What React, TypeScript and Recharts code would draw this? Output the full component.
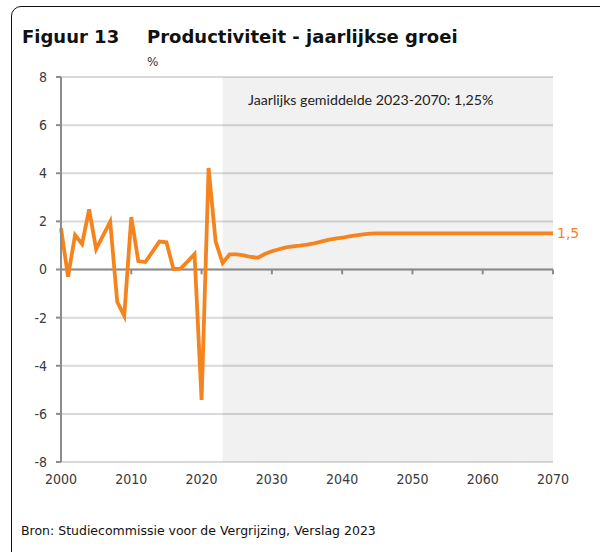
import React from 'react';
import { LineChart, Line, XAxis, YAxis, CartesianGrid, ReferenceArea, ReferenceLine } from 'recharts';

const years = [
  2000, 2001, 2002, 2003, 2004, 2005, 2006, 2007, 2008, 2009,
  2010, 2011, 2012, 2013, 2014, 2015, 2016, 2017, 2018, 2019,
  2020, 2021, 2022, 2023, 2024, 2025, 2026, 2027, 2028, 2029,
  2030, 2031, 2032, 2033, 2034, 2035, 2036, 2037, 2038, 2039,
  2040, 2041, 2042, 2043, 2044, 2045, 2046, 2047, 2048, 2049,
  2050, 2051, 2052, 2053, 2054, 2055, 2056, 2057, 2058, 2059,
  2060, 2061, 2062, 2063, 2064, 2065, 2066, 2067, 2068, 2069,
  2070,
];

const productivity = [
  1.72, -0.3, 1.43, 1.06, 2.5, 0.85, 1.42, 1.99, -1.34, -1.93,
  2.18, 0.35, 0.31, 0.73, 1.16, 1.13, 0.02, 0.04, 0.33, 0.64,
  -5.42, 4.22, 1.16, 0.27, 0.63, 0.63, 0.59, 0.52, 0.49, 0.64,
  0.76, 0.84, 0.92, 0.96, 0.99, 1.03, 1.09, 1.16, 1.23, 1.28,
  1.32, 1.38, 1.42, 1.46, 1.49, 1.5, 1.5, 1.5, 1.5, 1.5,
  1.5, 1.5, 1.5, 1.5, 1.5, 1.5, 1.5, 1.5, 1.5, 1.5,
  1.5, 1.5, 1.5, 1.5, 1.5, 1.5, 1.5, 1.5, 1.5, 1.5,
  1.5,
];

const xTicks = [2000, 2010, 2020, 2030, 2040, 2050, 2060, 2070];
const zeroTicks = [2010, 2020, 2030, 2040, 2050, 2060, 2070];
const yTicks = [-8, -6, -4, -2, 0, 2, 4, 6, 8];
const projectionStart = 2023;
const projectionEnd = 2070;

const titleNumber = 'Figuur 13';
const titleText = 'Productiviteit - jaarlijkse groei';
const unitText = '%';
const noteText = 'Jaarlijks gemiddelde 2023-2070: 1,25%';
const sourceText = 'Bron: Studiecommissie voor de Vergrijzing, Verslag 2023';
const endLabel = '1,5';

const data = years.map((y, i) => ({ year: y, v: productivity[i] }));

const ORANGE = '#F5841F';
const AXIS = '#8c8c8c';
const TICKTXT = '#3a3a3a';
const FONT = '"DejaVu Sans", sans-serif';
const TICKFONT = '"DejaVu Sans Condensed", "DejaVu Sans", sans-serif';

const EndLabel = (props: any) => {
  const { x, y, index } = props;
  if (index !== data.length - 1) return null;
  return (
    <text x={x + 4} y={y} dy="0.35em" fill={ORANGE} fontSize={14} fontFamily={FONT}>
      {endLabel}
    </text>
  );
};

export default function App() {
  return (
    <div style={{ position: 'absolute', left: 0, top: 0, width: 600, height: 552, background: '#fff', overflow: 'hidden', fontFamily: FONT }}>
      <div style={{ position: 'absolute', left: 11, top: 6, width: 610, height: 570, border: '1.5px solid #111', borderRadius: 10, boxSizing: 'border-box' }} />
      <div style={{ position: 'absolute', left: 22, top: 26, fontSize: 18, fontWeight: 'bold', color: '#111', whiteSpace: 'nowrap' }}>{titleNumber}</div>
      <div style={{ position: 'absolute', left: 147, top: 26, fontSize: 18, fontWeight: 'bold', color: '#111', whiteSpace: 'nowrap' }}>{titleText}</div>
      <div style={{ position: 'absolute', left: 147, top: 55, fontSize: 12, color: '#333', whiteSpace: 'nowrap' }}>{unitText}</div>
      <div style={{ position: 'absolute', left: 0, top: 0 }}>
        <LineChart width={600} height={552} data={data} margin={{ top: 77, right: 47, bottom: 60, left: 0 }}>
          <CartesianGrid vertical={false} stroke="#d9d9d9" strokeWidth={2} />
          <ReferenceArea x1={projectionStart} x2={projectionEnd} y1={-8} y2={8} fill="#000" fillOpacity={0.055} stroke="none" ifOverflow="hidden" />
          <ReferenceLine y={0} stroke={AXIS} strokeWidth={2} />
          {zeroTicks.map((t) => (
            <ReferenceLine key={t} segment={[{ x: t, y: 0 }, { x: t, y: -0.2 }]} stroke={AXIS} strokeWidth={2} />
          ))}
          <XAxis
            dataKey="year"
            type="number"
            domain={[2000, 2070]}
            ticks={xTicks}
            axisLine={false}
            tickLine={false}
            tickSize={6}
            tickMargin={6}
            height={30}
            tick={{ fill: TICKTXT, fontSize: 14, fontFamily: TICKFONT }}
            interval={0}
          />
          <YAxis
            type="number"
            domain={[-8, 8]}
            ticks={yTicks}
            width={61}
            axisLine={{ stroke: AXIS, strokeWidth: 2 }}
            tickLine={{ stroke: AXIS, strokeWidth: 2 }}
            tickSize={5}
            tickMargin={9}
            tick={{ fill: TICKTXT, fontSize: 14, fontFamily: TICKFONT }}
            interval={0}
            allowDataOverflow
          />
          <Line
            type="linear"
            dataKey="v"
            stroke={ORANGE}
            strokeWidth={3.8}
            dot={false}
            isAnimationActive={false}
            label={<EndLabel />}
          />
        </LineChart>
      </div>
      <div style={{ position: 'absolute', left: 248, top: 91, fontSize: 14.2, color: '#222', fontFamily: 'Lato, sans-serif', whiteSpace: 'nowrap' }}>{noteText}</div>
      <div style={{ position: 'absolute', left: 21, top: 523, fontSize: 12.5, color: '#111', whiteSpace: 'nowrap' }}>{sourceText}</div>
    </div>
  );
}
